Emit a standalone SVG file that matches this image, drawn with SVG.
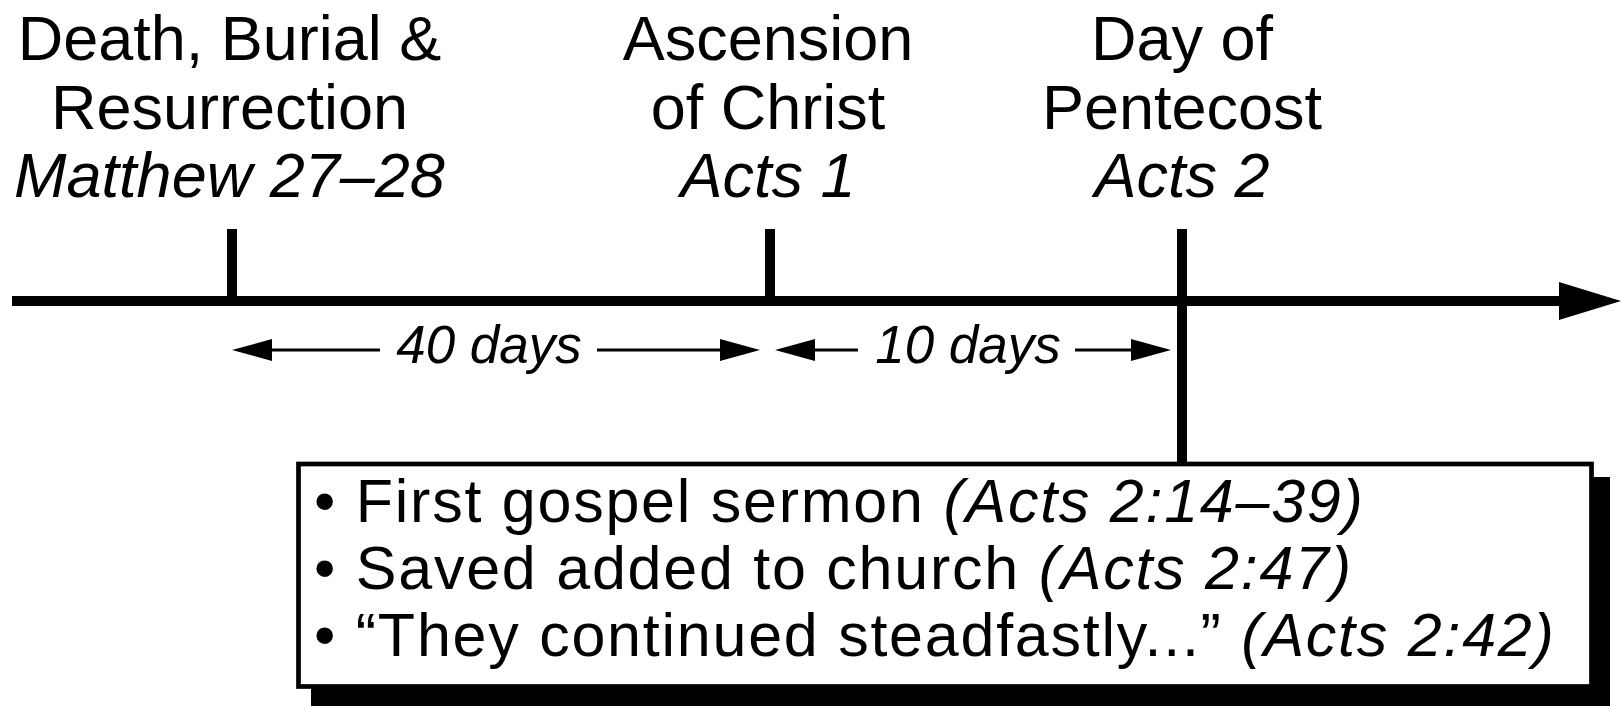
<svg xmlns="http://www.w3.org/2000/svg" width="1621" height="706" viewBox="0 0 1621 706">
  <style>
    .lbl { font-family: "Liberation Sans", Arial, Helvetica, sans-serif; font-size: 63px; fill: #000; text-anchor: middle; }
    .it { font-style: italic; }
    .dur { font-family: "Liberation Sans", Arial, Helvetica, sans-serif; font-size: 53px; font-style: italic; fill: #000; text-anchor: middle; }
    .box-text { font-family: "Liberation Sans", Arial, Helvetica, sans-serif; font-size: 61px; letter-spacing: 1.75px; fill: #000; }
    .tick { stroke: #000; stroke-width: 10; }
    .dline { stroke: #000; stroke-width: 3; fill: none; }
  </style>
  <defs>
    <marker id="dur-arrow" viewBox="0 0 40 22" refX="0" refY="11" markerWidth="40" markerHeight="22" markerUnits="userSpaceOnUse" orient="auto">
      <path d="M0,0 L40,11 L0,22 z" fill="#000"/>
    </marker>
  </defs>

  <g id="connectors">
    <line x1="12" y1="301" x2="1562" y2="301" stroke="#000" stroke-width="10"/>
    <polygon points="1559,282 1621,301 1559,320" fill="#000"/>
    <line class="tick" x1="232" y1="229" x2="232" y2="301"/>
    <line class="tick" x1="770" y1="229" x2="770" y2="301"/>
    <line class="tick" x1="1182" y1="229" x2="1182" y2="464"/>
    <line class="dline" x1="380" y1="350" x2="272" y2="350" marker-end="url(#dur-arrow)"/>
    <line class="dline" x1="597" y1="350" x2="720" y2="350" marker-end="url(#dur-arrow)"/>
    <line class="dline" x1="858" y1="350" x2="815" y2="350" marker-end="url(#dur-arrow)"/>
    <line class="dline" x1="1075" y1="350" x2="1131" y2="350" marker-end="url(#dur-arrow)"/>
  </g>

  <g id="event-death">
    <text class="lbl" x="229.5" y="60">Death, Burial &amp;</text>
    <text class="lbl" x="229.5" y="128.5">Resurrection</text>
    <text class="lbl it" x="229.5" y="197">Matthew 27–28</text>
  </g>
  <g id="event-ascension">
    <text class="lbl" x="768" y="60">Ascension</text>
    <text class="lbl" x="768" y="128.5">of Christ</text>
    <text class="lbl it" x="768" y="197">Acts 1</text>
  </g>
  <g id="event-pentecost">
    <text class="lbl" x="1182" y="60">Day of</text>
    <text class="lbl" x="1182" y="128.5">Pentecost</text>
    <text class="lbl it" x="1182" y="197">Acts 2</text>
  </g>

  <g id="duration-40">
    <text class="dur" x="489" y="363">40 days</text>
  </g>
  <g id="duration-10">
    <text class="dur" x="968" y="363">10 days</text>
  </g>

  <g id="pentecost-box">
    <rect x="311" y="477" width="1299" height="229" fill="#000"/>
    <rect x="298.5" y="464" width="1293" height="222.5" fill="#fff" stroke="#000" stroke-width="4.7"/>
    <text class="box-text" x="314" y="522">• First gospel sermon <tspan class="it">(Acts 2:14–39)</tspan></text>
    <text class="box-text" x="314" y="589">• Saved added to church <tspan class="it">(Acts 2:47)</tspan></text>
    <text class="box-text" x="314" y="656">• “They continued steadfastly...” <tspan class="it">(Acts 2:42)</tspan></text>
  </g>
</svg>
